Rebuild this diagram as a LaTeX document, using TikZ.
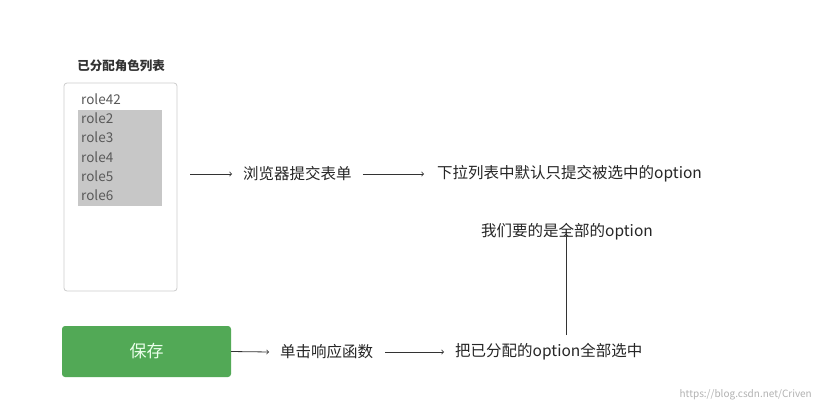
\documentclass[tikz,border=0pt]{standalone}
\usepackage{fontspec}
\setmainfont{Noto Sans CJK SC}
\begin{document}
\begin{tikzpicture}[x=1pt,y=-1pt,
  lbl/.style={anchor=west,inner sep=0pt,font=\fontsize{15.5}{16}\selectfont,text=black!85},
  role/.style={anchor=west,inner sep=0pt,font=\fontsize{13.5}{14}\selectfont,text=black!65},
  arr/.style={->,>=to,line width=0.8pt,black!80,shorten >=1pt}]
\useasboundingbox[fill=white] (0,0) rectangle (824,408);
\node[inner sep=0pt,font=\bfseries\fontsize{12.5}{13}\selectfont,text=black!80] (title) at (121,66) {已分配角色列表};
\node[draw=black!20,line width=0.8pt,rounded corners=3pt,minimum width=113pt,minimum height=208pt,inner sep=0pt] (box) at (120.5,187) {};
\fill[black!22] (78,110) rectangle (162,206);
\node[role] (r0) at (81,99) {role42};
\node[role] (r1) at (81,118) {role2};
\node[role] (r2) at (81,137.5) {role3};
\node[role] (r3) at (81,157) {role4};
\node[role] (r4) at (81,176) {role5};
\node[role] (r5) at (81,195.5) {role6};
\node[fill={rgb,255:red,82;green,169;blue,86},rounded corners=3pt,minimum width=169pt,minimum height=51pt,inner sep=0pt,text=white!92!green,font=\fontsize{17}{18}\selectfont] (btn) at (146.5,351.5) {保存};
\coordinate (a1s) at (190,174);
\node[lbl] (t1) at (243,174) {浏览器提交表单};
\node[lbl] (t2) at (437,174) {下拉列表中默认只提交被选中的option};
\node[lbl,anchor=center] (t3) at (567,232) {我们要的是全部的option};
\node[lbl] (t4) at (280,352) {单击响应函数};
\node[lbl] (t5) at (455,352) {把已分配的option全部选中};
\coordinate (vs) at (566,335);
\draw[arr] (a1s) -- ([xshift=-10pt]t1.west);
\draw[arr] ([xshift=11pt]t1.east) -- ([xshift=-12pt]t2.west);
\draw[arr] (btn.east) -- ([xshift=-10pt]t4.west);
\draw[arr] ([xshift=12pt]t4.east) -- ([xshift=-10pt]t5.west);
\draw[arr] (vs) -- ([yshift=8pt]t3.south -| vs);
\node[anchor=east,inner sep=0pt,font=\fontsize{10}{11}\selectfont,text=black!30] (wm) at (812,395) {https://blog.csdn.net/Criven};
\end{tikzpicture}
\end{document}
